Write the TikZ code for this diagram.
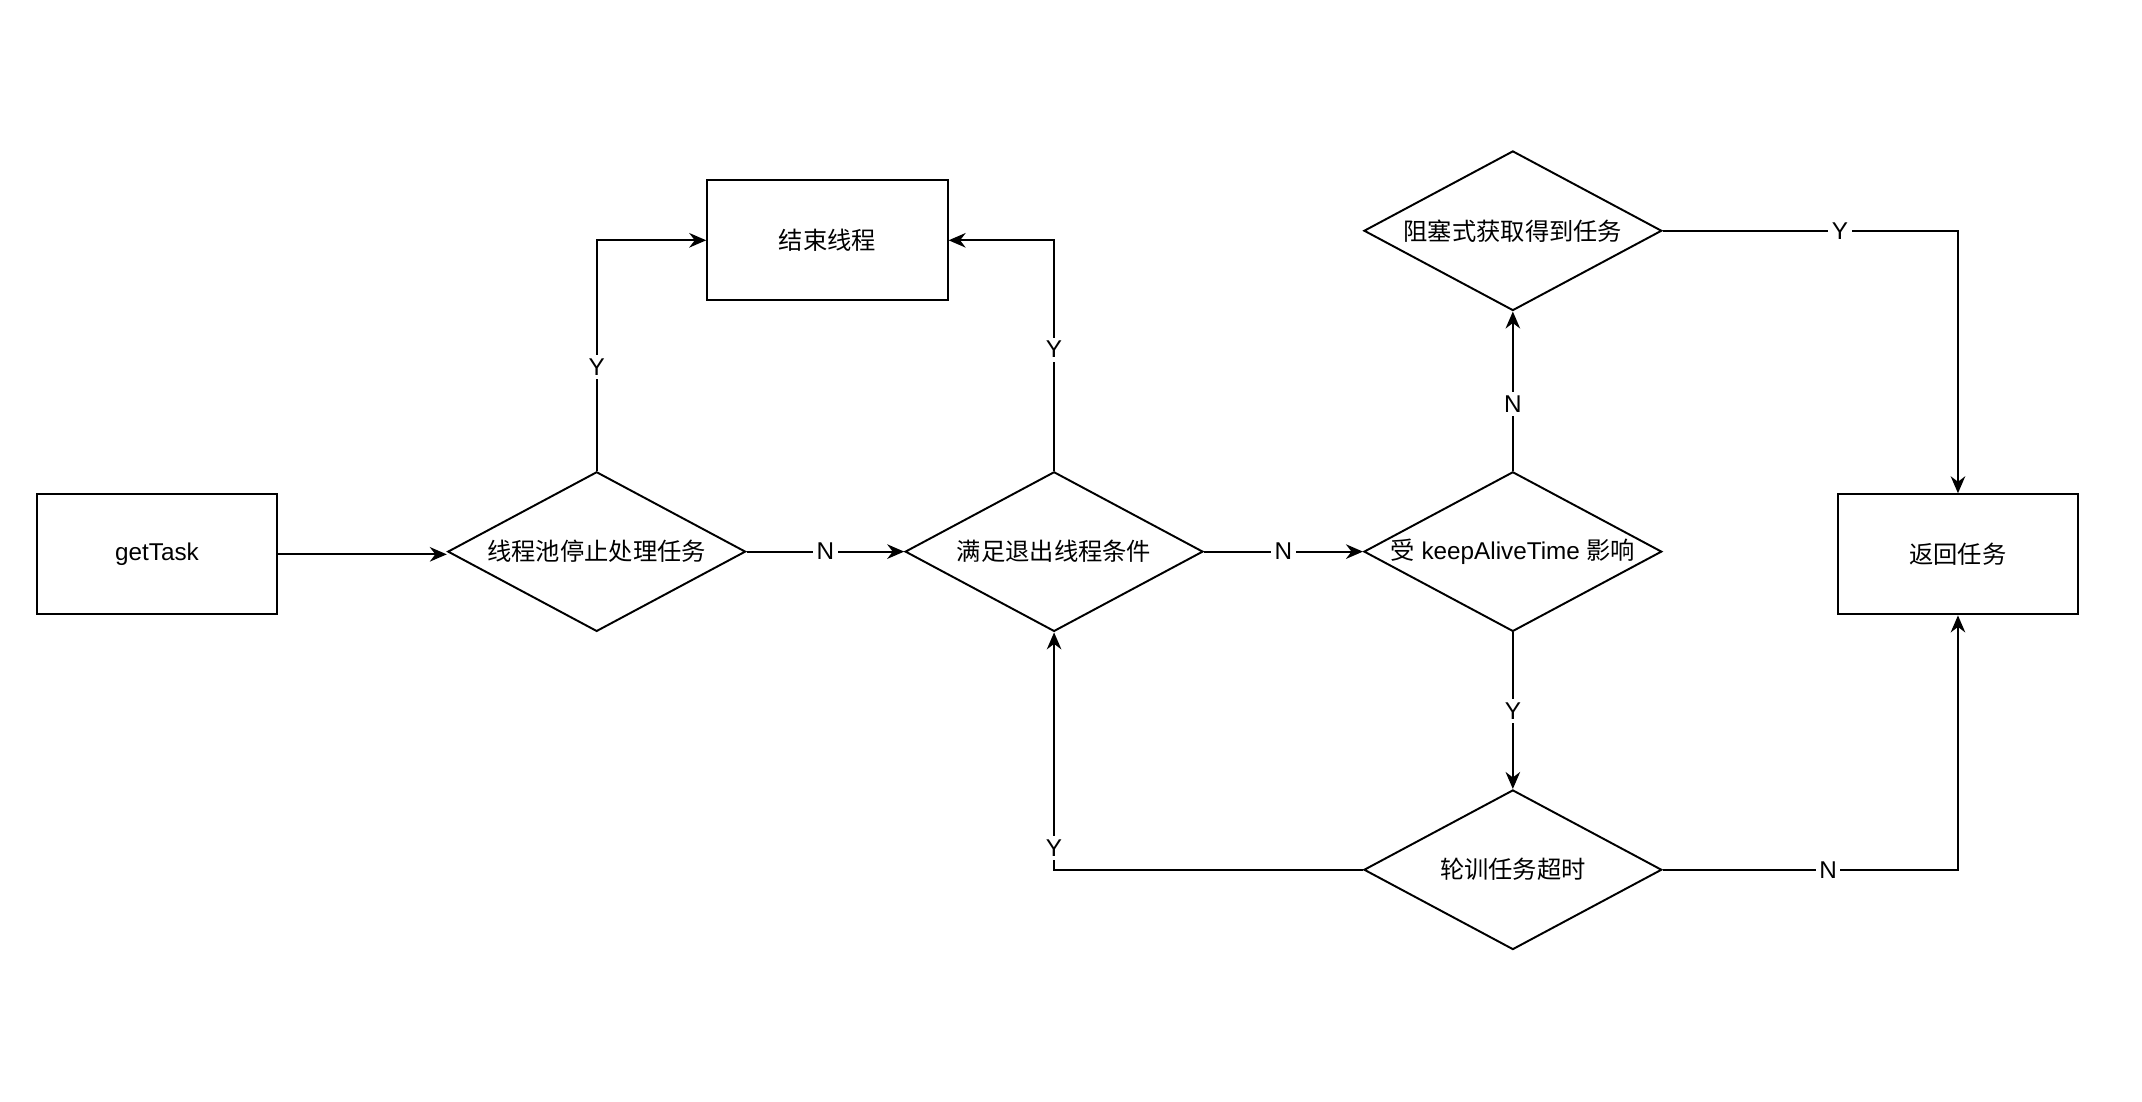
\documentclass[tikz,border=0pt]{standalone}
\usepackage{fontspec}
\setmainfont{Liberation Sans}
\newfontfamily\cjk{Noto Sans CJK SC}
\usetikzlibrary{shapes.geometric,arrows.meta}

\begin{document}
\begin{tikzpicture}[x=0.01976cm,y=-0.01976cm,
  box/.style={draw,line width=0.8pt,minimum width=3.48cm,minimum height=1.74cm,inner sep=0pt},
  test/.style={draw,diamond,aspect=1.86,line width=0.8pt,minimum width=4.31cm,minimum height=2.31cm,inner sep=0pt},
  lbl/.style={fill=white,inner sep=1.5pt},
  >={Stealth[length=7pt,width=6pt]}]

\useasboundingbox (0,0) rectangle (1568.8,806.7);

\node[box] (get) at (115,406) {getTask};

\node[test] (stop) at (437,404) {\cjk 线程池停止处理任务};

\node[box] (end) at (606,176) {\cjk 结束线程};

\node[test] (exit) at (772,404) {\cjk 满足退出线程条件};

\node[test] (keep) at (1108,404) {{\cjk 受} keepAliveTime {\cjk 影响}};

\node[test] (block) at (1108,169) {\cjk 阻塞式获取得到任务};

\node[test] (poll) at (1108,637) {\cjk 轮训任务超时};

\node[box] (ret) at (1434,406) {\cjk 返回任务};


\draw[->,line width=0.8pt] (get) -- (get -| stop.west);
\draw[->,line width=0.8pt] (stop.north) |- node[lbl,pos=0.225]{Y} (end.west);
\draw[->,line width=0.8pt] (stop) -- node[lbl]{N} (exit);
\draw[->,line width=0.8pt] (exit.north) |- node[lbl,pos=0.263]{Y} (end.east);
\draw[->,line width=0.8pt] (exit) -- node[lbl]{N} (keep);
\draw[->,line width=0.8pt] (keep) -- node[lbl,pos=0.42]{N} (block);
\draw[->,line width=0.8pt] (keep) -- node[lbl]{Y} (poll);
\draw[->,line width=0.8pt] (block.east) -| node[lbl,pos=0.3]{Y} (ret.north);
\draw[->,line width=0.8pt] (poll.west) -| node[lbl,pos=0.546]{Y} (exit.south);
\draw[->,line width=0.8pt] (poll.east) -| node[lbl,pos=0.28]{N} (ret.south);


\end{tikzpicture}
\end{document}
